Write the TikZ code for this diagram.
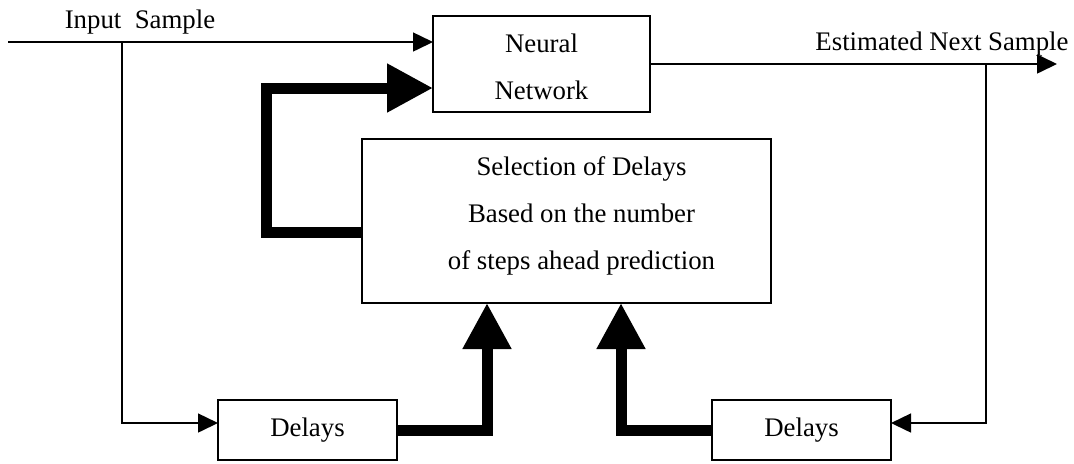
\documentclass[tikz,border=0pt]{standalone}
\usepackage{fontspec}
\setmainfont{Liberation Serif}
\usetikzlibrary{arrows.meta}

\tikzset{
	block/.style={draw, line width=0.75pt, inner sep=0pt, outer sep=0pt, align=center},
	signal/.style={line width=0.75pt, -{Triangle[length=10pt, width=9.5pt]}},
	bus/.style={line width=5.5pt, line join=miter, -{Triangle[length=23pt, width=23pt]}},
	label/.style={anchor=base, inner sep=0pt}
}

\begin{document}
\begin{tikzpicture}[x=0.5pt, y=-0.5pt, font=\fontsize{13.4}{23.5}\selectfont]
	\useasboundingbox (0, 0) rectangle (1074, 463);
	% blocks
	\node[block, minimum width=108.5pt, minimum height=48pt] (nn) at (541.5, 64) {};
	\node[block, minimum width=204.5pt, minimum height=82pt] (sel) at (566.5, 221) {};
	\node[block, minimum width=89.5pt, minimum height=30pt] (dly1) at (307.5, 430) {Delays};
	\node[block, minimum width=89.5pt, minimum height=30pt] (dly2) at (801.5, 430) {Delays};
	\node[align=center, inner sep=0pt] (nntext) at ([yshift=-1.5pt]nn.center) {Neural\\Network};
	\node[align=center, inner sep=0pt] (seltext) at ([xshift=7.5pt, yshift=2.5pt]sel.center) {Selection of Delays\\Based on the number\\of steps ahead prediction};
	\node[label] (insample) at (140, 28) {Input~ Sample};
	\node[label] (estsample) at (942, 50) {Estimated Next Sample};
	% input and output signals
	\coordinate (in) at (8, 42);
	\coordinate (br1) at (122, 42);
	\coordinate (out) at (1057, 64);
	\coordinate (br2) at (986, 64);
	\draw[signal] (in) -- (in -| nn.west);
	\draw[signal] (br1) |- ([yshift=3.5pt]dly1.west);
	\draw[signal] (nn.east) -- (out);
	\draw[signal] (br2) |- ([yshift=3.5pt]dly2.east);
	% delay selection paths
	\draw[bus] ([yshift=-5.5pt]sel.west) -- ++(-96, 0) |- ([yshift=-12pt]nn.west);
	\draw[bus] (dly1.east) -| ([xshift=-39.75pt]sel.south);
	\draw[bus] (dly2.west) -| ([xshift=27.25pt]sel.south);
\end{tikzpicture}
\end{document}
